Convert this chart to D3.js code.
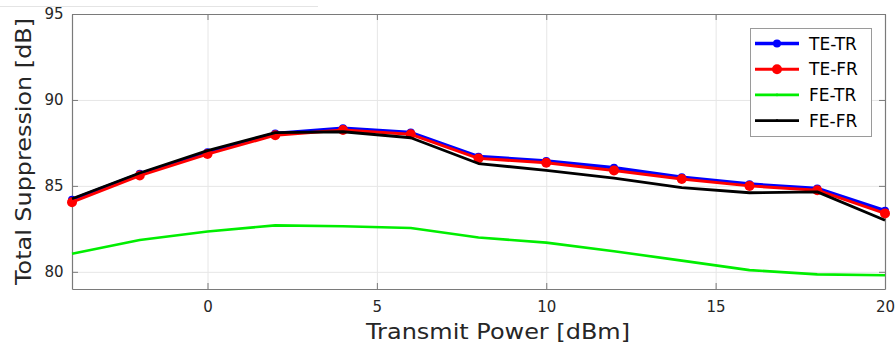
<!DOCTYPE html>
<html>
<head>
<meta charset="utf-8">
<script src="https://d3js.org/d3.v7.min.js"></script>
<style>
  body { margin: 0; background: #fff; }
  text { font-family: "DejaVu Sans", sans-serif; fill: #262626; }
  .axis path, .axis line { stroke: #7a7a7a; }
  .grid line { stroke: #e6e6e6; }
  .grid path { display: none; }
</style>
</head>
<body>
<div id="chart"></div>
<script>
// data
var powers = [-4, -2, 0, 2, 4, 6, 8, 10, 12, 14, 16, 18, 20];
var teTr = [84.2, 85.7, 86.95, 88.05, 88.35, 88.1, 86.7, 86.45, 86.05, 85.5, 85.1, 84.85, 83.55];
var teFr = [84.05, 85.6, 86.85, 87.95, 88.25, 88.0, 86.6, 86.35, 85.9, 85.4, 85.0, 84.75, 83.4];
var feTr = [81.05, 81.85, 82.35, 82.7, 82.65, 82.55, 82.0, 81.7, 81.2, 80.65, 80.1, 79.85, 79.8];
var feFr = [84.25, 85.75, 87.05, 88.1, 88.15, 87.8, 86.3, 85.9, 85.45, 84.9, 84.6, 84.65, 83.0];
var seriesNames = ["TE-TR", "TE-FR", "FE-TR", "FE-FR"];
var xTicks = [0, 5, 10, 15, 20];
var yTicks = [80, 85, 90, 95];

var svgWidth = 896;
var svgHeight = 350;

var margin = { top: 14, right: 11, bottom: 61, left: 72 };
var width = svgWidth - margin.left - margin.right;
var height = svgHeight - margin.top - margin.bottom;

var svg = d3.select("#chart")
  .append("svg")
  .attr("width", svgWidth)
  .attr("height", svgHeight);

// faint line along the top edge of the figure
svg.append("line")
  .attr("x1", 0).attr("x2", 318)
  .attr("y1", 6.5).attr("y2", 6.5)
  .attr("stroke", "#e4e4e4");

var chartGroup = svg.append("g")
  .attr("transform", `translate(${margin.left}, ${margin.top})`);

var xScale = d3.scaleLinear().domain([-4, 20]).range([0, width]);
var yScale = d3.scaleLinear().domain([79, 95]).range([height, 0]);

// grid
chartGroup.append("g")
  .attr("class", "grid")
  .attr("transform", `translate(0, ${height})`)
  .call(d3.axisBottom(xScale).tickValues(xTicks).tickSize(-height).tickFormat(""));

chartGroup.append("g")
  .attr("class", "grid")
  .call(d3.axisLeft(yScale).tickValues(yTicks).tickSize(-width).tickFormat(""));

// axes (ticks point inward, box on all four sides)
var bottomAxis = chartGroup.append("g")
  .attr("class", "axis")
  .attr("transform", `translate(0, ${height})`)
  .call(d3.axisBottom(xScale).tickValues(xTicks).tickSizeInner(-6).tickSizeOuter(0).tickPadding(12));

var leftAxis = chartGroup.append("g")
  .attr("class", "axis")
  .call(d3.axisLeft(yScale).tickValues(yTicks).tickSizeInner(-6).tickSizeOuter(0).tickPadding(8.5));

chartGroup.append("g")
  .attr("class", "axis")
  .call(d3.axisTop(xScale).tickValues(xTicks).tickSizeInner(-6).tickSizeOuter(0).tickFormat(""));

chartGroup.append("g")
  .attr("class", "axis")
  .attr("transform", `translate(${width}, 0)`)
  .call(d3.axisRight(yScale).tickValues(yTicks).tickSizeInner(-6).tickSizeOuter(0).tickFormat(""));

chartGroup.selectAll(".axis text")
  .style("font-size", "15px")
  .style("fill", "#262626");

chartGroup.selectAll(".axis path")
  .attr("stroke-width", 1.2);

// lines
var series = [
  { name: seriesNames[0], values: teTr, color: "#0000ff", width: 3.6, r: 4 },
  { name: seriesNames[1], values: teFr, color: "#ff0000", width: 3, r: 5 },
  { name: seriesNames[2], values: feTr, color: "#00ee00", width: 2.6, r: 0 },
  { name: seriesNames[3], values: feFr, color: "#000000", width: 2.8, r: 0 }
];

var line = d3.line()
  .x((d, i) => xScale(powers[i]))
  .y(d => yScale(d));

series.forEach(function(s) {
  chartGroup.append("path")
    .datum(s.values)
    .attr("fill", "none")
    .attr("stroke", s.color)
    .attr("stroke-width", s.width)
    .attr("stroke-linejoin", "round")
    .attr("d", line);

  if (s.r > 0) {
    chartGroup.append("g").selectAll("circle")
      .data(s.values)
      .enter()
      .append("circle")
      .attr("cx", (d, i) => xScale(powers[i]))
      .attr("cy", d => yScale(d))
      .attr("r", s.r)
      .attr("fill", s.color);
  }
});

// axis labels
svg.append("text")
  .attr("x", 366)
  .attr("y", 339)
  .attr("textLength", 264)
  .attr("lengthAdjust", "spacingAndGlyphs")
  .style("font-size", "21px")
  .text("Transmit Power [dBm]");

svg.append("text")
  .attr("transform", "translate(31, 285) rotate(-90)")
  .attr("textLength", 267)
  .attr("lengthAdjust", "spacingAndGlyphs")
  .style("font-size", "21.5px")
  .text("Total Suppression [dB]");

// legend
var legend = svg.append("g")
  .attr("transform", "translate(750, 28)");

legend.append("rect")
  .attr("x", 0.5).attr("y", 0.5)
  .attr("width", 121).attr("height", 108)
  .attr("fill", "#fff")
  .attr("stroke", "#9a9a9a");

var rows = legend.selectAll(".row")
  .data(series)
  .enter()
  .append("g")
  .attr("transform", (d, i) => `translate(0, ${15.5 + i * 25.7})`);

rows.append("line")
  .attr("x1", 5).attr("x2", 49)
  .attr("stroke", d => d.color)
  .attr("stroke-width", d => d.width);

rows.append("circle")
  .attr("cx", 27)
  .attr("r", d => d.r > 0 ? d.r : 1.3)
  .attr("fill", d => d.color);

rows.append("text")
  .attr("x", 59)
  .attr("y", 6)
  .style("font-size", "17px")
  .style("fill", "#000")
  .text(d => d.name);
</script>
</body>
</html>
